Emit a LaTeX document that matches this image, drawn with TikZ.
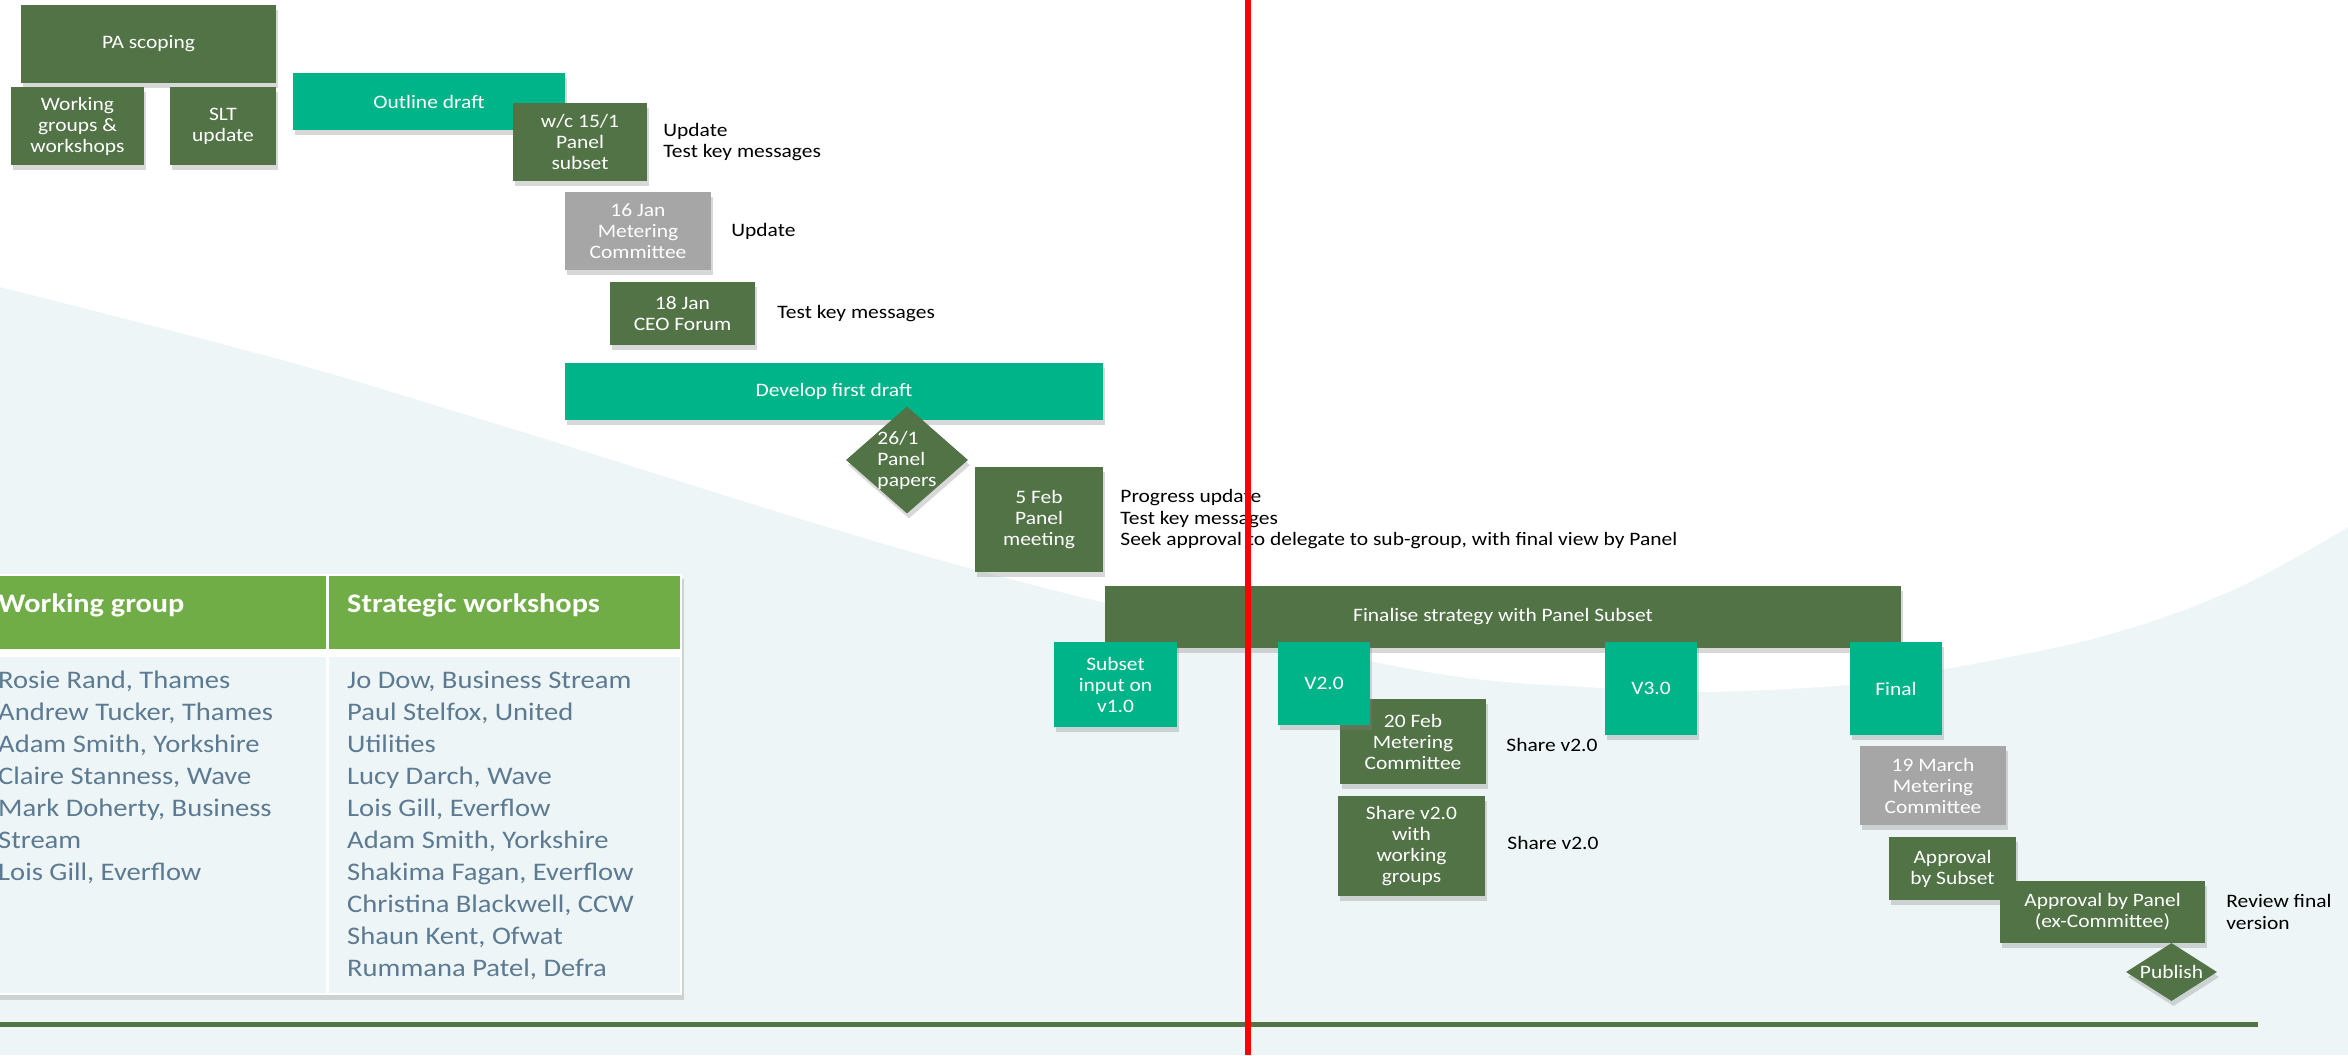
\documentclass[tikz,border=0pt]{standalone}
\usepackage{fontspec}
\setmainfont{Carlito}[FakeStretch=1.13]
\usetikzlibrary{shapes.geometric,shadows}

\definecolor{verdescuro}{RGB}{81,115,70}
\definecolor{turchese}{RGB}{0,180,137}
\definecolor{grigio}{RGB}{166,166,166}
\definecolor{verdetab}{RGB}{112,173,71}
\definecolor{sfondo}{RGB}{237,245,246}
\definecolor{testotab}{RGB}{92,122,145}

\begin{document}
\begin{tikzpicture}[x=1pt,y=-1pt,
    font=\fontsize{19}{21}\selectfont,
    ombra/.style={drop shadow={shadow xshift=2pt,shadow yshift=-5pt,opacity=0.3}},
    wh/.style 2 args={minimum width=#1pt,minimum height=#2pt},
    fase/.style={rectangle,fill=verdescuro,text=white,align=center,
                 inner sep=0pt,ombra},
    bozza/.style={fase,fill=turchese},
    comitato/.style={fase,fill=grigio},
    tappa/.style={diamond,fill=verdescuro,text=white,inner sep=0pt,ombra},
    nota/.style={anchor=west,align=left,inner sep=0pt,
                 font=\fontsize{19}{21.5}\selectfont},
    intesta/.style={anchor=base west,inner sep=0pt,text=white,
                 font=\fontsize{26.8}{32}\selectfont\bfseries},
    elenco/.style={anchor=base west,align=left,inner sep=0pt,text=testotab,
                 font=\fontsize{25.3}{32}\selectfont}]

  \useasboundingbox (0,0) rectangle (2348,1055);

  % ---- sfondo: zona chiara sotto la curva ----------------------------------
  \fill[sfondo] (0,0) rectangle (2348,1055);
  \fill[white] (0,0) -- plot[smooth,tension=0.6] coordinates {
        (0,287) (282,360) (500,425) (976,570) (1400,667) (1600,688)
        (1700,692) (1847,685) (1940,670) (2100,637) (2233,590)
        (2348,527)} -- (2348,0) -- cycle;

  % ---- tabella dei gruppi ---------------------------------------------------
  \fill[white,ombra] (-24,574) rectangle (682,995);
  \fill[verdetab] (-22,576) rectangle (326,649);
  \fill[verdetab] (329,576) rectangle (680,649);
  \fill[sfondo]   (-22,657) rectangle (326,993);
  \fill[sfondo]   (329,657) rectangle (680,993);
  \node[intesta] (th-wg) at (-2,612)  {Working group};
  \node[intesta] (th-ws) at (347,612) {Strategic workshops};
  % ancorate all'ultima riga: 688 + (righe-1)*32
  \node[elenco] (tb-wg) at (-2,880) {Rosie Rand, Thames\\Andrew Tucker, Thames\\
        Adam Smith, Yorkshire\\Claire Stanness, Wave\\Mark Doherty, Business\\
        Stream\\Lois Gill, Everflow};
  \node[elenco] (tb-ws) at (347,976) {Jo Dow, Business Stream\\Paul Stelfox, United\\
        Utilities\\Lucy Darch, Wave\\Lois Gill, Everflow\\Adam Smith, Yorkshire\\
        Shakima Fagan, Everflow\\Christina Blackwell, CCW\\Shaun Kent, Ofwat\\
        Rummana Patel, Defra};

  % ---- linea di base --------------------------------------------------------
  \coordinate (base-sx) at (0,1024.5);
  \coordinate (base-dx) at (2258,1024.5);
  \draw[verdescuro,line width=5pt] (base-sx) -- (base-dx);

  % ---- fase iniziale --------------------------------------------------------
  \node[fase,wh={255}{78}]  (pa)  at (148.5,44) {PA scoping};
  \node[fase,wh={133}{78}]  (wg)  at (77.5,126) {Working\\groups \&\\workshops};
  \node[fase,wh={106}{78}]  (slt) at (223,126)  {SLT\\update};
  \node[bozza,wh={272}{57}] (outline) at (429,101.5) {Outline draft};
  \node[fase,wh={134}{78}]  (wc)  at (580,142)  {w/c 15/1\\Panel\\subset};
  \node[comitato,wh={146}{78}] (jan16) at (638,231) {16 Jan\\Metering\\Committee};
  \node[fase,wh={145}{63}]  (jan18) at (682.5,313.5) {18 Jan\\CEO Forum};

  % ---- prima bozza ----------------------------------------------------------
  \node[bozza,wh={538}{57}] (develop) at (834,391.5) {Develop first draft};
  \node[tappa,wh={122}{107},shape aspect=1.14,align=left,inner sep=-3pt]
        (papers) at (907,460) {26/1\\Panel\\papers};
  \node[fase,wh={128}{105}] (feb5) at (1039,519.5) {5 Feb\\Panel\\meeting};

  % ---- strategia finale -----------------------------------------------------
  \node[fase,wh={796}{62}]  (finalise) at (1503,617) {Finalise strategy with Panel Subset};
  \node[bozza,wh={123}{85}] (subsetin) at (1115.5,684.5) {Subset\\input on\\v1.0};
  \node[fase,wh={146}{85}]  (feb20) at (1413,741.5) {20 Feb\\Metering\\Committee};
  \node[bozza,wh={92}{83}]  (v2)    at (1324,683.5) {V2.0};
  \node[fase,wh={147}{100}] (sharewg) at (1411.5,846) {Share v2.0\\with\\working\\groups};
  \node[bozza,wh={92}{93}]  (v3)    at (1651,688.5) {V3.0};
  \node[bozza,wh={92}{93}]  (final) at (1896,688.5) {Final};
  \node[comitato,wh={146}{79}] (mar19) at (1933,785.5) {19 March\\Metering\\Committee};
  \node[fase,wh={127}{63}]  (apsub) at (1952.5,868.5) {Approval\\by Subset};
  \node[fase,wh={205}{62}]  (appanel) at (2102.5,912) {Approval by Panel\\(ex-Committee)};
  \node[tappa,wh={91}{58},shape aspect=1.57] (publish) at (2171.5,972) {Publish};

  % ---- note a destra --------------------------------------------------------
  \node[nota] (n-wc)    at ([xshift=16pt]wc.east)      {Update\\Test key messages};
  \node[nota] (n-jan16) at ([xshift=20pt]jan16.east)   {Update};
  \node[nota] (n-jan18) at ([xshift=22pt]jan18.east)   {Test key messages};
  \node[nota] (n-feb5)  at ([xshift=17pt]feb5.east)    {Progress update\\Test key messages\\
        Seek approval to delegate to sub-group, with final view by Panel};
  \node[nota] (n-feb20) at ([xshift=20pt,yshift=-3pt]feb20.east) {Share v2.0};
  \node[nota] (n-share) at ([xshift=22pt,yshift=3pt]sharewg.east) {Share v2.0};
  \node[nota] (n-panel) at ([xshift=21pt]appanel.east) {Review final\\version};

  % ---- linea rossa di oggi --------------------------------------------------
  \coordinate (oggi-su)  at (1248,0);
  \coordinate (oggi-giu) at (1248,1055);
  \draw[red,line width=5.5pt] (oggi-su) -- (oggi-giu);

\end{tikzpicture}
\end{document}
